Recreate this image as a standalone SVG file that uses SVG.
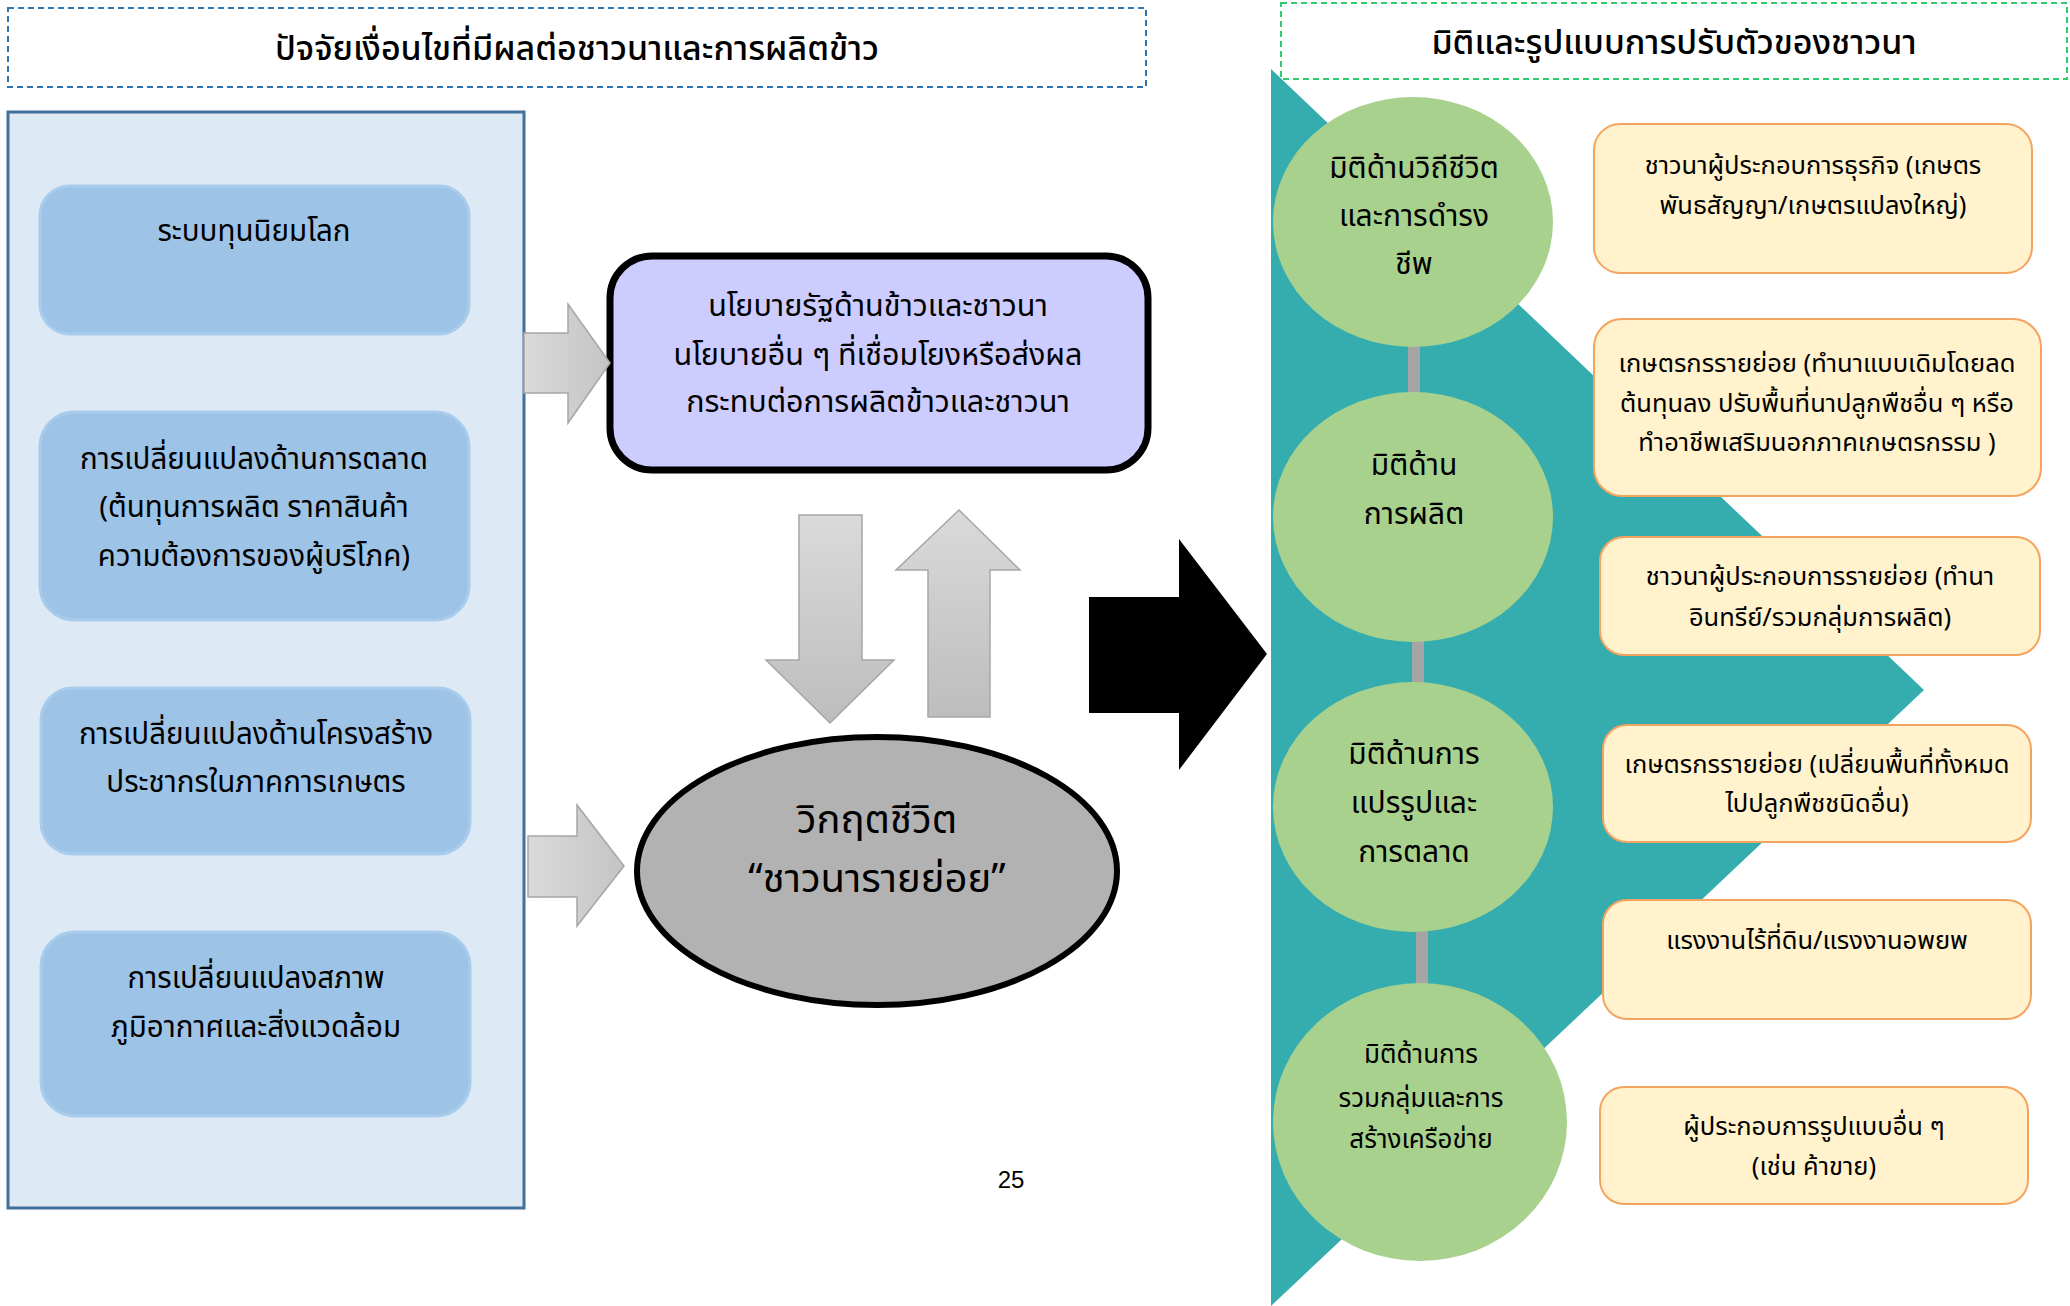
<svg xmlns="http://www.w3.org/2000/svg" width="2070" height="1306" viewBox="0 0 2070 1306">
<defs>
<linearGradient id="gv" x1="0" y1="0" x2="0" y2="1"><stop offset="0" stop-color="#DADADA"/><stop offset="1" stop-color="#BDBDBD"/></linearGradient>
<linearGradient id="gh" x1="0" y1="0" x2="1" y2="0"><stop offset="0" stop-color="#DADADA"/><stop offset="1" stop-color="#C4C4C4"/></linearGradient>
<style>
text{font-family:"Noto Sans Thai","Noto Sans Thai UI","Noto Sans","DejaVu Sans",sans-serif;fill:#000;text-anchor:middle}
.title{font-size:34px;font-weight:500}
.lt{font-size:29.5px}
.pol{font-size:30.5px}
.circ{font-size:30px}
.circs{font-size:26px}
.ob{font-size:25.5px}
.lbox{fill:#9DC3E6;stroke:#A9CCEC;stroke-width:3}
.obox{fill:#FFF2CC;stroke:#F4A460;stroke-width:2}
.garr{stroke:#A6A6A6;stroke-width:1.5}
.gc{fill:#A9D18E}
.bar{fill:#A5A5A5}
</style>
</defs>
<rect width="2070" height="1306" fill="#FFFFFF"/>

<g id="title-left">
<rect x="8" y="8" width="1138" height="79" fill="#FFFFFF" stroke="#2E75B6" stroke-width="2" stroke-dasharray="6,4"/>
<text class="title" x="577" y="60">ปัจจัยเงื่อนไขที่มีผลต่อชาวนาและการผลิตข้าว</text>
</g>

<g id="title-right">
<rect x="1281" y="3" width="786" height="76" fill="#FFFFFF" stroke="#2ECC71" stroke-width="2" stroke-dasharray="6,4"/>
<text class="title" x="1674" y="54">มิติและรูปแบบการปรับตัวของชาวนา</text>
</g>

<g id="panel-left">
<rect x="8" y="112" width="516" height="1096" fill="#DDE9F5" stroke="#41719C" stroke-width="3"/>
</g>

<g id="factor-1">
<rect class="lbox" x="40" y="186" width="429" height="148" rx="30"/>
<text class="lt" x="254" y="241">ระบบทุนนิยมโลก</text>
</g>
<g id="factor-2">
<rect class="lbox" x="40" y="412" width="429" height="208" rx="34"/>
<text class="lt" x="254" y="469">การเปลี่ยนแปลงด้านการตลาด</text>
<text class="lt" x="254" y="517">(ต้นทุนการผลิต ราคาสินค้า</text>
<text class="lt" x="254" y="566">ความต้องการของผู้บริโภค)</text>
</g>
<g id="factor-3">
<rect class="lbox" x="41" y="688" width="429" height="166" rx="32"/>
<text class="lt" x="256" y="744">การเปลี่ยนแปลงด้านโครงสร้าง</text>
<text class="lt" x="256" y="792">ประชากรในภาคการเกษตร</text>
</g>
<g id="factor-4">
<rect class="lbox" x="41" y="932" width="429" height="184" rx="34"/>
<text class="lt" x="256" y="988">การเปลี่ยนแปลงสภาพ</text>
<text class="lt" x="256" y="1037">ภูมิอากาศและสิ่งแวดล้อม</text>
</g>

<g id="policy">
<rect x="610" y="256" width="538" height="214" rx="42" fill="#CCCCFF" stroke="#000000" stroke-width="7"/>
<text class="pol" x="878" y="316">นโยบายรัฐด้านข้าวและชาวนา</text>
<text class="pol" x="878" y="365">นโยบายอื่น ๆ ที่เชื่อมโยงหรือส่งผล</text>
<text class="pol" x="878" y="412">กระทบต่อการผลิตข้าวและชาวนา</text>
</g>

<g id="crisis">
<ellipse cx="877" cy="871" rx="240" ry="134" fill="#B2B2B2" stroke="#000000" stroke-width="6"/>
<text x="877" y="833" style="font-size:40px">วิกฤตชีวิต</text>
<text x="877" y="892" style="font-size:40px">“ชาวนารายย่อย”</text>
</g>

<g id="page-number">
<text x="1011" y="1188" style="font-size:24px;font-family:'Liberation Sans',sans-serif">25</text>
</g>

<g id="dimensions">
<polygon points="1271,69 1924,690 1271,1306" fill="#35ADAF"/>
<rect class="bar" x="1408" y="340" width="12" height="58"/>
<rect class="bar" x="1412" y="636" width="12" height="52"/>
<rect class="bar" x="1416" y="925" width="12" height="64"/>
<g id="dim-1">
<ellipse class="gc" cx="1413" cy="222" rx="140" ry="125"/>
<text class="circ" x="1414" y="178">มิติด้านวิถีชีวิต</text>
<text class="circ" x="1414" y="226">และการดำรง</text>
<text class="circ" x="1414" y="274">ชีพ</text>
</g>
<g id="dim-2">
<ellipse class="gc" cx="1413" cy="517" rx="140" ry="125"/>
<text class="circ" x="1414" y="475">มิติด้าน</text>
<text class="circ" x="1414" y="524">การผลิต</text>
</g>
<g id="dim-3">
<ellipse class="gc" cx="1413" cy="807" rx="140" ry="125"/>
<text class="circ" x="1414" y="764">มิติด้านการ</text>
<text class="circ" x="1414" y="813">แปรรูปและ</text>
<text class="circ" x="1414" y="862">การตลาด</text>
</g>
<g id="dim-4">
<ellipse class="gc" cx="1420" cy="1122" rx="147" ry="139"/>
<text class="circs" x="1421" y="1063">มิติด้านการ</text>
<text class="circs" x="1421" y="1107">รวมกลุ่มและการ</text>
<text class="circs" x="1421" y="1148">สร้างเครือข่าย</text>
</g>
</g>

<g id="adapt-1">
<rect class="obox" x="1594" y="124" width="438" height="149" rx="26"/>
<text class="ob" x="1813" y="174">ชาวนาผู้ประกอบการธุรกิจ (เกษตร</text>
<text class="ob" x="1813" y="214">พันธสัญญา/เกษตรแปลงใหญ่)</text>
</g>
<g id="adapt-2">
<rect class="obox" x="1594" y="319" width="447" height="177" rx="28"/>
<text class="ob" x="1817" y="372">เกษตรกรรายย่อย (ทำนาแบบเดิมโดยลด</text>
<text class="ob" x="1817" y="412">ต้นทุนลง ปรับพื้นที่นาปลูกพืชอื่น ๆ หรือ</text>
<text class="ob" x="1817" y="451">ทำอาชีพเสริมนอกภาคเกษตรกรรม )</text>
</g>
<g id="adapt-3">
<rect class="obox" x="1600" y="537" width="440" height="118" rx="24"/>
<text class="ob" x="1820" y="585">ชาวนาผู้ประกอบการรายย่อย (ทำนา</text>
<text class="ob" x="1820" y="626">อินทรีย์/รวมกลุ่มการผลิต)</text>
</g>
<g id="adapt-4">
<rect class="obox" x="1603" y="725" width="428" height="117" rx="24"/>
<text class="ob" x="1817" y="773">เกษตรกรรายย่อย (เปลี่ยนพื้นที่ทั้งหมด</text>
<text class="ob" x="1817" y="812">ไปปลูกพืชชนิดอื่น)</text>
</g>
<g id="adapt-5">
<rect class="obox" x="1603" y="900" width="428" height="119" rx="24"/>
<text class="ob" x="1817" y="949">แรงงานไร้ที่ดิน/แรงงานอพยพ</text>
</g>
<g id="adapt-6">
<rect class="obox" x="1600" y="1087" width="428" height="117" rx="24"/>
<text class="ob" x="1814" y="1135">ผู้ประกอบการรูปแบบอื่น ๆ</text>
<text class="ob" x="1814" y="1175">(เช่น ค้าขาย)</text>
</g>

<g id="connectors">
<polygon class="garr" fill="url(#gh)" points="524,333 568,333 568,304 610,363 568,423 568,393 524,393"/>
<polygon class="garr" fill="url(#gh)" points="528,836 577,836 577,805 624,866 577,926 577,897 528,897"/>
<polygon class="garr" fill="url(#gv)" points="799,515 862,515 862,660 894,660 830,723 766,660 799,660"/>
<polygon class="garr" fill="url(#gv)" points="928,717 990,717 990,570 1020,570 959,510 896,570 928,570"/>
<polygon fill="#000000" points="1089,597 1179,597 1179,539 1267,654 1179,770 1179,713 1089,713"/>
</g>
</svg>
